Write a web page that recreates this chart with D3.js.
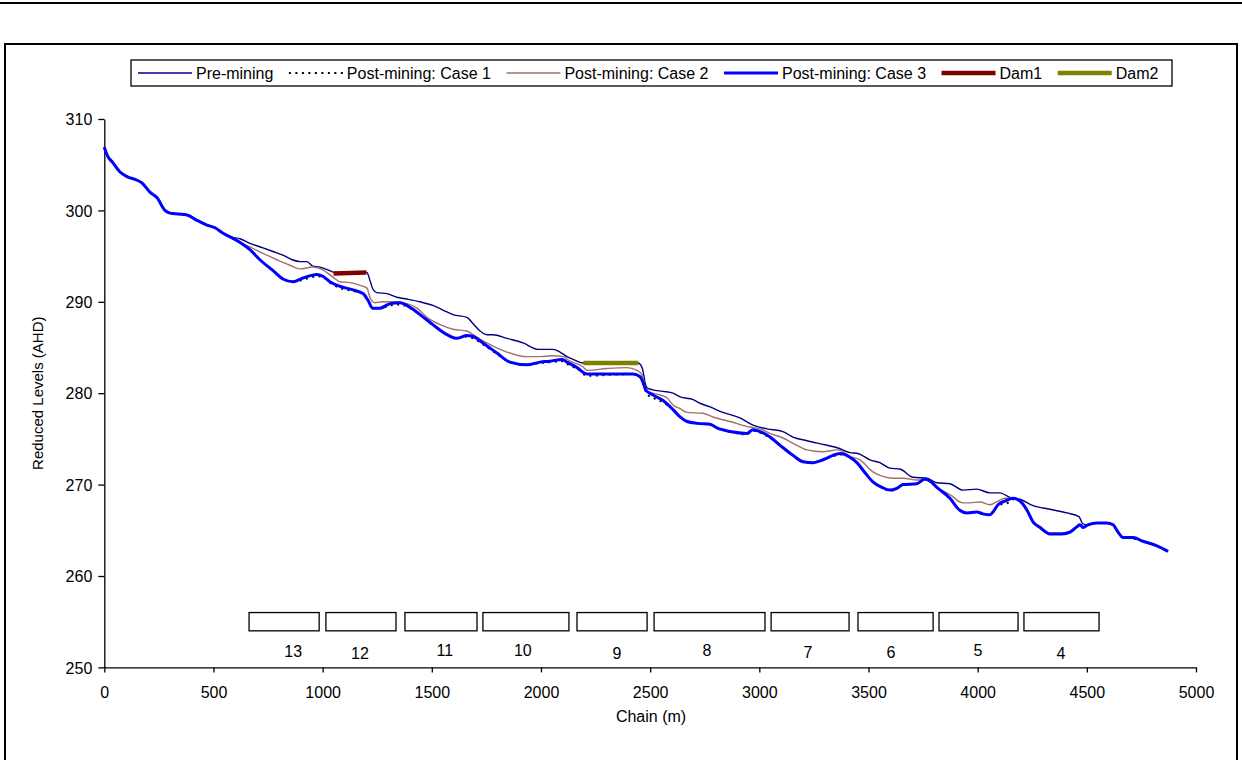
<!DOCTYPE html>
<html>
<head>
<meta charset="utf-8">
<script src="https://d3js.org/d3.v7.min.js"></script>
<style>
  html, body { margin: 0; padding: 0; background: #fff; }
  svg { display: block; }
  text { font-family: "Liberation Sans", Arial, sans-serif; fill: #000; }
</style>
</head>
<body>
<svg id="chart" width="1242" height="760"></svg>
<script>
// ---------------- DATA ----------------
const xTicks = [0, 500, 1000, 1500, 2000, 2500, 3000, 3500, 4000, 4500, 5000];
const yTicks = [250, 260, 270, 280, 290, 300, 310];

const seriesNames = ["Pre-mining", "Post-mining: Case 1", "Post-mining: Case 2", "Post-mining: Case 3", "Dam1", "Dam2"];

// [chain (m), reduced level (AHD)]
const preMining = [
  [0,306.9],[12,306.1],[40,305.2],[72,304.2],[104,303.7],[150,303.3],[173,303.0],[209,302.0],[241,301.4],[278,300.0],
  [301,299.7],[338,299.6],[379,299.5],[425,298.9],[470,298.4],[507,298.1],[544,297.5],[576,297.1],[622,296.9],[667,296.4],
  [727,295.9],[773,295.5],[818,295.1],[860,294.6],[896,294.4],[928,294.4],[956,293.9],[988,293.8],[1024,293.5],[1056,293.2],
  [1125,293.2],[1171,293.3],[1203,293.2],[1216,292.4],[1230,291.4],[1248,291.0],[1295,290.9],[1340,290.5],[1386,290.3],[1446,290.0],
  [1505,289.6],[1551,289.1],[1597,288.6],[1661,288.3],[1689,287.6],[1721,286.8],[1752,286.4],[1780,286.4],[1844,286.0],[1918,285.5],
  [1987,284.8],[2055,284.8],[2087,284.5],[2119,284.0],[2147,283.7],[2192,283.3],[2270,283.3],[2362,283.3],[2444,283.3],[2463,282.8],
  [2472,281.8],[2477,281.1],[2486,280.6],[2508,280.4],[2559,280.2],[2605,280.0],[2637,279.6],[2697,279.3],[2728,278.9],[2774,278.5],
  [2833,277.9],[2911,277.3],[2971,276.5],[3035,276.1],[3108,275.8],[3154,275.2],[3218,274.8],[3310,274.3],[3360,274.0],[3415,273.5],
  [3452,273.4],[3507,272.7],[3552,272.4],[3598,271.8],[3644,271.7],[3704,270.8],[3768,270.7],[3813,270.2],[3873,270.1],[3932,269.4],
  [3996,269.5],[4056,269.1],[4102,269.1],[4148,268.6],[4194,268.4],[4254,267.7],[4331,267.3],[4409,266.9],[4464,266.5],[4482,265.7],
  [4505,265.6],[4546,265.8],[4592,265.8],[4620,265.6],[4643,264.8],[4666,264.2],[4712,264.2],[4757,263.8],[4821,263.3],[4872,262.7]
];

const postCase1 = [
  [0,306.9],[12,306.1],[40,305.2],[72,304.2],[104,303.7],[150,303.3],[173,303.0],[209,302.0],[241,301.4],[278,300.0],
  [301,299.7],[338,299.6],[379,299.5],[425,298.9],[470,298.4],[507,298.1],[544,297.5],[576,297.1],[622,296.5],[667,295.7],
  [713,294.6],[773,293.4],[818,292.5],[864,292.2],[910,292.4],[974,292.8],[1001,292.7],[1033,292.1],[1079,291.5],[1139,291.2],
  [1185,290.9],[1207,290.2],[1230,289.3],[1262,289.3],[1309,289.6],[1354,289.7],[1400,289.3],[1446,288.6],[1505,287.5],[1570,286.4],
  [1616,286.0],[1661,286.2],[1689,286.0],[1743,285.2],[1798,284.3],[1858,283.4],[1936,283.1],[1996,283.3],[2041,283.4],[2097,283.5],
  [2133,283.0],[2165,282.7],[2211,281.9],[2302,282.0],[2421,282.1],[2454,281.8],[2467,281.1],[2486,279.9],[2513,279.5],[2559,279.0],
  [2605,278.2],[2637,277.4],[2669,276.9],[2715,276.7],[2774,276.6],[2806,276.2],[2866,275.8],[2943,275.5],[2971,275.9],[3003,275.7],
  [3049,275.1],[3095,274.3],[3154,273.2],[3200,272.5],[3246,272.4],[3278,272.6],[3310,272.9],[3337,273.1],[3370,273.3],[3415,273.0],
  [3447,272.4],[3484,271.3],[3520,270.3],[3562,269.7],[3598,269.3],[3630,269.6],[3658,270.0],[3722,270.1],[3758,270.6],[3781,270.4],
  [3813,269.7],[3873,268.5],[3918,267.2],[3950,266.9],[3996,267.0],[4024,266.8],[4056,266.7],[4070,267.0],[4093,267.7],[4148,268.1],
  [4162,268.4],[4194,268.2],[4226,267.2],[4254,265.9],[4286,265.3],[4331,264.6],[4386,264.6],[4423,264.8],[4455,265.4],[4469,265.6],
  [4482,265.3],[4505,265.6],[4546,265.8],[4592,265.8],[4620,265.6],[4643,264.8],[4666,264.2],[4712,264.1],[4757,263.8],[4821,263.3],[4872,262.7]
];

const postCase2 = [
  [0,306.9],[12,306.1],[40,305.2],[72,304.2],[104,303.7],[150,303.3],[173,303.0],[209,302.0],[241,301.4],[278,300.0],
  [301,299.7],[338,299.6],[379,299.5],[425,298.9],[470,298.4],[507,298.1],[544,297.5],[576,297.1],[622,296.5],[667,296.0],
  [727,295.3],[791,294.6],[850,294.0],[896,293.6],[956,293.8],[1001,293.5],[1047,292.7],[1079,292.2],[1125,292.1],[1171,291.8],
  [1203,291.5],[1216,290.5],[1239,289.9],[1276,290.0],[1322,290.0],[1386,289.8],[1432,289.3],[1478,288.3],[1538,287.5],[1597,287.0],
  [1661,286.8],[1689,286.4],[1752,285.5],[1844,284.5],[1936,284.0],[1996,284.0],[2055,284.1],[2101,284.0],[2133,283.5],[2192,282.9],
  [2211,282.5],[2302,282.7],[2394,282.8],[2440,282.5],[2463,282.0],[2477,280.7],[2490,280.2],[2545,279.8],[2577,279.5],[2605,278.7],
  [2637,278.3],[2669,277.9],[2742,277.8],[2788,277.4],[2866,276.9],[2957,276.3],[3003,276.1],[3049,275.6],[3108,275.1],[3172,274.3],
  [3218,273.8],[3291,273.6],[3360,273.8],[3415,273.1],[3461,272.7],[3520,271.4],[3566,270.9],[3612,270.7],[3658,270.7],[3722,270.5],
  [3768,270.5],[3813,269.7],[3873,268.9],[3932,268.0],[3964,268.0],[4010,268.1],[4056,267.8],[4093,268.2],[4125,268.5],[4162,268.5],
  [4194,268.2],[4226,267.2],[4254,266.0],[4286,265.4],[4331,264.7],[4386,264.7],[4423,264.9],[4455,265.4],[4469,265.6],[4482,265.4],
  [4505,265.6],[4546,265.8],[4592,265.8],[4620,265.6],[4643,264.8],[4666,264.2],[4712,264.2],[4757,263.8],[4821,263.3],[4872,262.7]
];

const postCase3 = [
  [0,306.9],[12,306.1],[40,305.2],[72,304.2],[104,303.7],[150,303.3],[173,303.0],[209,302.0],[241,301.4],[278,300.0],
  [301,299.7],[338,299.6],[379,299.5],[425,298.9],[470,298.4],[507,298.1],[544,297.5],[576,297.1],[622,296.5],[667,295.7],
  [713,294.6],[773,293.4],[818,292.5],[864,292.2],[910,292.6],[974,293.0],[1001,292.8],[1033,292.2],[1079,291.7],[1139,291.3],
  [1185,290.9],[1207,290.2],[1230,289.3],[1262,289.3],[1309,289.8],[1354,289.9],[1400,289.4],[1446,288.6],[1505,287.5],[1570,286.4],
  [1616,286.0],[1661,286.3],[1689,286.2],[1734,285.5],[1798,284.4],[1858,283.4],[1936,283.1],[1996,283.4],[2041,283.5],[2097,283.7],
  [2119,283.4],[2165,282.8],[2211,282.1],[2302,282.1],[2421,282.1],[2454,281.8],[2467,281.2],[2481,280.3],[2513,279.8],[2559,279.2],
  [2605,278.2],[2637,277.4],[2669,276.9],[2715,276.7],[2774,276.6],[2806,276.2],[2866,275.8],[2943,275.6],[2971,276.0],[3003,275.8],
  [3049,275.2],[3095,274.3],[3154,273.2],[3200,272.5],[3246,272.4],[3278,272.6],[3310,272.9],[3337,273.2],[3370,273.4],[3415,273.0],
  [3447,272.4],[3484,271.3],[3520,270.3],[3562,269.7],[3598,269.4],[3630,269.6],[3658,270.0],[3722,270.1],[3758,270.6],[3781,270.4],
  [3813,269.7],[3873,268.5],[3918,267.2],[3950,266.9],[3996,267.0],[4024,266.8],[4056,266.7],[4070,267.0],[4093,267.8],[4125,268.2],
  [4162,268.5],[4194,268.2],[4226,267.2],[4254,265.9],[4286,265.3],[4331,264.6],[4386,264.6],[4423,264.8],[4455,265.4],[4469,265.6],
  [4482,265.3],[4505,265.6],[4546,265.8],[4592,265.8],[4620,265.6],[4643,264.8],[4666,264.2],[4712,264.2],[4757,263.8],[4821,263.3],[4872,262.7]
];

const dam1 = [[1050,293.1],[1200,293.2]];
const dam2 = [[2195,283.3],[2445,283.3]];

// Section markers (boxes) along the chain
const sectionNames  = ["13","12","11","10","9","8","7","6","5","4"];
const sectionStart  = [663, 1015, 1377, 1734, 2165, 2518, 3054, 3452, 3823, 4212];
const sectionEnd    = [984, 1336, 1707, 2128, 2486, 3026, 3411, 3796, 4185, 4556];
const sectionLabelX = [865, 1171, 1560, 1917, 2348, 2760, 3223, 3603, 4001, 4381];
const sectionLabelY = [251.8, 251.6, 251.9, 251.9, 251.6, 251.9, 251.7, 251.7, 251.9, 251.6];
const sectionLow = 254, sectionHigh = 256;

// ---------------- DRAWING ----------------
const svg = d3.select("#chart");
const FONT = 16;

// page top rule and outer chart frame
svg.append("line").attr("x1", 0).attr("x2", 1242).attr("y1", 3).attr("y2", 3)
  .attr("stroke", "#000").attr("stroke-width", 2);
svg.append("rect").attr("x", 5).attr("y", 44).attr("width", 1232).attr("height", 740)
  .attr("fill", "none").attr("stroke", "#000").attr("stroke-width", 2);

const x = d3.scaleLinear().domain([0, 5000]).range([104.3, 1196]);
const y = d3.scaleLinear().domain([250, 310]).range([667.4, 119]);

// axes
const gx = svg.append("g").attr("transform", `translate(0,${y(250)})`)
  .call(d3.axisBottom(x).tickValues(xTicks).tickSize(5).tickSizeOuter(0).tickFormat(d3.format("d")));
const gy = svg.append("g").attr("transform", `translate(${x(0)},0)`)
  .call(d3.axisLeft(y).tickValues(yTicks).tickSize(6).tickSizeOuter(0).tickFormat(d3.format("d")));
[gx, gy].forEach(g => {
  g.selectAll("path, line").attr("stroke", "#000").attr("stroke-width", 1.3);
  g.selectAll("text").attr("font-size", FONT).attr("font-family", "Liberation Sans, Arial, sans-serif").attr("fill", "#000");
});
gx.selectAll("text").attr("dy", null).attr("y", 31);
gy.selectAll("text").attr("x", -12).attr("dy", "0.36em");

svg.append("text").attr("x", 651).attr("y", 722).attr("text-anchor", "middle")
  .attr("font-size", FONT).text("Chain (m)");
svg.append("text").attr("transform", `translate(43,${(y(250)+y(310))/2}) rotate(-90)`)
  .attr("text-anchor", "middle").attr("font-size", 15).text("Reduced Levels (AHD)");

// section boxes
const sections = sectionNames.map((n, i) => ({n, s: sectionStart[i], e: sectionEnd[i], lx: sectionLabelX[i], ly: sectionLabelY[i]}));
svg.append("g").selectAll("rect").data(sections).join("rect")
  .attr("x", d => x(d.s)).attr("width", d => x(d.e) - x(d.s))
  .attr("y", y(sectionHigh)).attr("height", y(sectionLow) - y(sectionHigh))
  .attr("fill", "#fff").attr("stroke", "#000").attr("stroke-width", 1.3);
svg.append("g").selectAll("text").data(sections).join("text")
  .attr("x", d => x(d.lx)).attr("y", d => y(d.ly)).attr("dy", "0.36em")
  .attr("text-anchor", "middle").attr("font-size", FONT).text(d => d.n);

// series
const line = d3.line().x(d => x(d[0])).y(d => y(d[1])).curve(d3.curveMonotoneX);
const styles = [
  {data: preMining, color: "#000080", width: 1.4, dash: null},
  {data: postCase1, color: "#000000", width: 2,   dash: "2,4.5"},
  {data: postCase2, color: "#a0706a", width: 1.4, dash: null},
  {data: postCase3, color: "#0000ff", width: 3,   dash: null},
  {data: dam1,      color: "#800000", width: 4.5, dash: null},
  {data: dam2,      color: "#808000", width: 4.5, dash: null}
];
const gl = svg.append("g").attr("fill", "none");
styles.forEach(s => {
  gl.append("path").datum(s.data).attr("d", line)
    .attr("stroke", s.color).attr("stroke-width", s.width)
    .attr("stroke-dasharray", s.dash).attr("stroke-linejoin", "round");
});

// legend
const lg = svg.append("g");
lg.append("rect").attr("x", 131).attr("y", 60).attr("width", 1041).attr("height", 26)
  .attr("fill", "#fff").attr("stroke", "#000").attr("stroke-width", 1.3);
let cx = 138;
const ly = 73;
seriesNames.forEach((name, i) => {
  const s = styles[i];
  lg.append("line").attr("x1", cx).attr("x2", cx + 54).attr("y1", ly).attr("y2", ly)
    .attr("stroke", s.color).attr("stroke-width", s.width).attr("stroke-dasharray", s.dash);
  const t = lg.append("text").attr("x", cx + 58).attr("y", ly + 6).attr("font-size", FONT).text(name);
  const w = t.node().getComputedTextLength();
  cx = cx + 58 + w + 15.5;
});
</script>
</body>
</html>
